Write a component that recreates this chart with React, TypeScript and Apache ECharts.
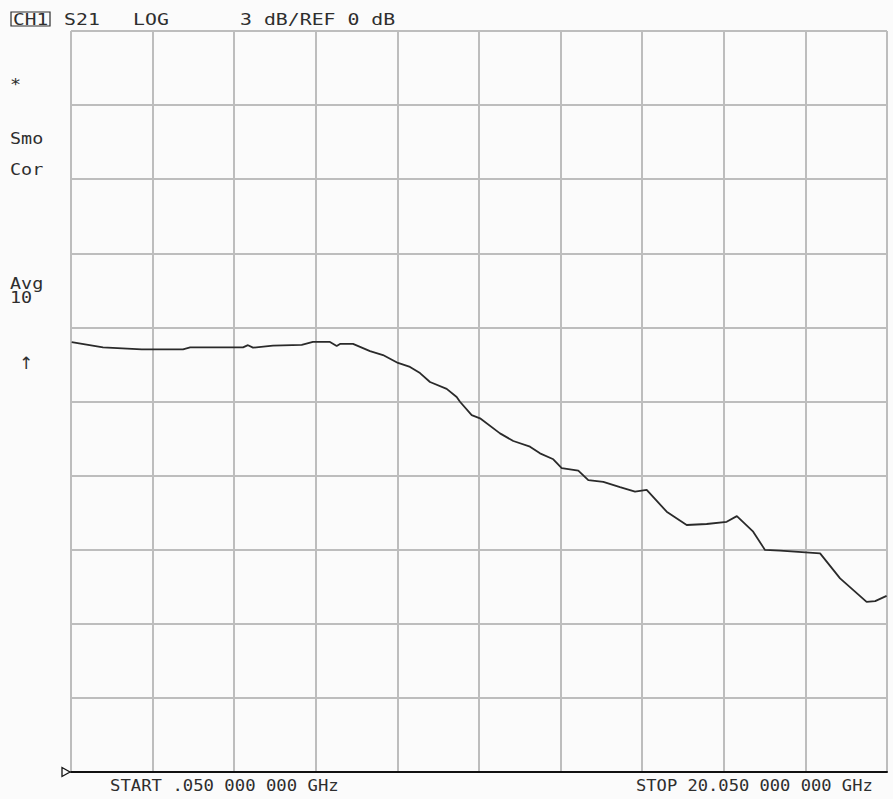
import React, { useEffect, useRef } from "react";
import * as echarts from "echarts";

// Sweep: START .050 GHz, STOP 20.050 GHz, 2 GHz/div
const START_GHZ = 0.05;
const STOP_GHZ = 20.05;
const X_DIV = 2;
// Scale: 3 dB/div, REF 0 dB (reference line at bottom of graticule)
const Y_MIN = 0;
const Y_MAX = 30;
const Y_DIV = 3;

const freqGHz = [
  0.067, 0.834, 1.783, 2.795, 2.97, 4.266, 4.388, 4.511, 5.0, 5.705, 5.98, 6.398,
  6.562, 6.643, 6.962, 7.379, 7.697, 8.065, 8.359, 8.604, 8.849, 9.258, 9.503,
  9.584, 9.871, 10.075, 10.565, 10.891, 11.3, 11.545, 11.871, 12.077, 12.484,
  12.729, 13.097, 13.506, 13.874, 14.16, 14.65, 15.14, 15.63, 16.12, 16.37,
  16.77, 17.06, 17.43, 18.41, 18.9, 19.55, 19.76, 20.04,
];
const s21dB = [
  17.4, 17.19, 17.11, 17.11, 17.19, 17.19, 17.28, 17.18, 17.26, 17.29, 17.41,
  17.41, 17.25, 17.33, 17.33, 17.04, 16.88, 16.56, 16.4, 16.15, 15.79, 15.51,
  15.18, 14.99, 14.45, 14.32, 13.71, 13.4, 13.17, 12.9, 12.66, 12.3, 12.2,
  11.82, 11.75, 11.53, 11.35, 11.42, 10.54, 10.0, 10.04, 10.13, 10.36, 9.73,
  8.99, 8.96, 8.85, 7.84, 6.89, 6.92, 7.13,
];

const headerTexts = ["S21", "LOG", "3 dB/REF 0 dB"];
const sideTexts = ["*", "Smo", "Cor", "Avg", "10"];
const refArrow = "\u2191";
const startLabel = "START .050 000 000 GHz";
const stopLabel = "STOP 20.050 000 000 GHz";

const MONO = '16px "DejaVu Sans Mono", monospace';
const INK = "#2e2e2e";

export default function App() {
  const ref = useRef<HTMLDivElement>(null);

  useEffect(() => {
    if (!ref.current) return;
    const chart = echarts.init(ref.current, null, { renderer: "svg" });

    const txt = (text: string, x: number, y: number, sx: number, extra: any = {}) => ({
      type: "text",
      x,
      y,
      scaleX: sx,
      silent: true,
      style: {
        text,
        font: MONO,
        fill: INK,
        align: "left",
        verticalAlign: "middle",
        ...extra,
      },
    });

    const headerX = [64, 133, 240];
    const sideXY = [
      [10, 84],
      [10, 138],
      [10, 169],
      [10, 283],
      [10, 297],
    ];

    const option: any = {
      animation: false,
      backgroundColor: "#fbfbfb",
      grid: { left: 71, top: 31, width: 816, height: 741, containLabel: false },
      xAxis: {
        type: "value",
        min: 0,
        max: STOP_GHZ - START_GHZ,
        interval: X_DIV,
        axisLabel: { show: false },
        axisTick: { show: false },
        axisLine: { show: true, onZero: false, lineStyle: { color: "#111", width: 2 } },
        splitLine: { show: true, lineStyle: { color: "#bdbdbd", width: 2 } },
      },
      yAxis: {
        type: "value",
        min: Y_MIN,
        max: Y_MAX,
        interval: Y_DIV,
        axisLabel: { show: false },
        axisTick: { show: false },
        axisLine: { show: false },
        splitLine: { show: true, lineStyle: { color: "#bdbdbd", width: 2 } },
      },
      series: [
        {
          type: "line",
          data: freqGHz.map((f, i) => [f - START_GHZ, s21dB[i]]),
          showSymbol: false,
          symbol: "none",
          lineStyle: { color: "#2a2a2a", width: 1.8 },
          z: 5,
        },
      ],
      graphic: [
        {
          type: "rect",
          shape: { x: 11, y: 12, width: 39, height: 14 },
          style: { fill: "none", stroke: INK, lineWidth: 1.2 },
          silent: true,
        },
        txt("CH1", 13, 19.5, 1.22),
        ...headerTexts.map((t, i) => txt(t, headerX[i], 19.5, 1.24)),
        ...sideTexts.map((t, i) => txt(t, sideXY[i][0], sideXY[i][1], 1.15)),
        txt(refArrow, 19, 363, 1, { font: '17px "DejaVu Sans", sans-serif' }),
        txt(startLabel, 110, 786, 1.08),
        txt(stopLabel, 636, 786, 1.07),
        {
          type: "polygon",
          shape: { points: [[62, 767.5], [70, 772], [62, 776.5]] },
          style: { fill: "none", stroke: "#111", lineWidth: 1.3 },
          silent: true,
        },
      ],
    };

    chart.setOption(option);
    return () => chart.dispose();
  }, []);

  return (
    <div
      ref={ref}
      style={{ position: "fixed", left: 0, top: 0, width: 893, height: 799 }}
    />
  );
}
